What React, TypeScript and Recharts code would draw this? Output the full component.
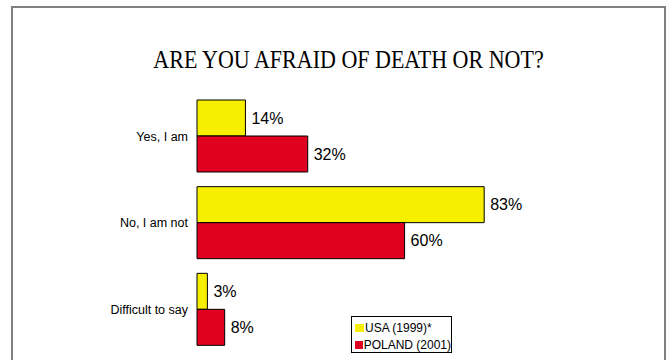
import { BarChart, Bar, XAxis, YAxis, LabelList, Legend } from "recharts";

const categories = ["Yes, I am", "No, I am not", "Difficult to say"];
const usaValues = [14, 83, 3];
const polandValues = [32, 60, 8];
const seriesNames = ["USA (1999)*", "POLAND (2001)"];
const seriesColors = ["#f6f000", "#e00020"];

const data = categories.map((c, i) => ({
  answer: c,
  usa: usaValues[i],
  poland: polandValues[i],
}));

const sans = "'Liberation Sans', Arial, sans-serif";

function LegendBox() {
  return (
    <div
      style={{
        width: 99,
        height: 35,
        border: "1px solid #000",
        background: "#fff",
        fontFamily: sans,
        fontSize: 12,
        color: "#000",
        boxSizing: "content-box",
      }}
    >
      {seriesNames.map((n, i) => (
        <div
          key={n}
          style={{
            display: "flex",
            alignItems: "center",
            height: 17,
            marginTop: i === 0 ? 2 : 0,
            paddingLeft: 3,
            whiteSpace: "nowrap",
          }}
        >
          <span
            style={{
              display: "inline-block",
              width: 9,
              height: 8,
              background: seriesColors[i],
              marginRight: 1,
            }}
          />
          {n}
        </div>
      ))}
    </div>
  );
}

export default function App() {
  return (
    <div style={{ position: "absolute", left: 0, top: 0, width: 670, height: 360, background: "#fff", overflow: "hidden" }}>
      {/* frame */}
      <div
        style={{
          position: "absolute",
          left: 11,
          top: 6,
          width: 651,
          height: 360,
          border: "2px solid #808080",
          borderBottom: "none",
        }}
      />
      <div
        style={{
          position: "absolute",
          left: 0,
          top: 49,
          width: 697,
          textAlign: "center",
          fontFamily: "'Liberation Serif', 'Times New Roman', serif",
          fontSize: 22,
          lineHeight: "22px",
          color: "#000",
          transform: "scaleY(1.1)",
        }}
      >
        ARE YOU AFRAID OF DEATH OR NOT?
      </div>
      <div style={{ position: "absolute", left: 0, top: 0 }}>
        <BarChart
          width={670}
          height={360}
          data={data}
          layout="vertical"
          margin={{ top: 93, right: 127, bottom: 7, left: 0 }}
          barGap={0}
          barSize={36}
        >
          <XAxis type="number" domain={[0, 100]} hide />
          <YAxis
            type="category"
            dataKey="answer"
            width={197}
            axisLine={false}
            tickLine={false}
            tickSize={0}
            tickMargin={9}
            tick={{ fill: "#000", fontSize: 12.5, fontFamily: sans }}
          />
          <Legend
            layout="vertical"
            align="center"
            verticalAlign="middle"
            wrapperStyle={{ left: 351, top: 316, width: 101, height: 37 }}
            content={() => <LegendBox />}
          />
          <Bar dataKey="usa" name={seriesNames[0]} fill={seriesColors[0]} stroke="#000" strokeWidth={1} isAnimationActive={false}>
            <LabelList dataKey="usa" position="right" offset={6} formatter={(v: any) => `${v}%`} fill="#000" fontSize={16} fontFamily={sans} />
          </Bar>
          <Bar dataKey="poland" name={seriesNames[1]} fill={seriesColors[1]} stroke="#000" strokeWidth={1} isAnimationActive={false}>
            <LabelList dataKey="poland" position="right" offset={6} formatter={(v: any) => `${v}%`} fill="#000" fontSize={16} fontFamily={sans} />
          </Bar>
        </BarChart>
      </div>
    </div>
  );
}
